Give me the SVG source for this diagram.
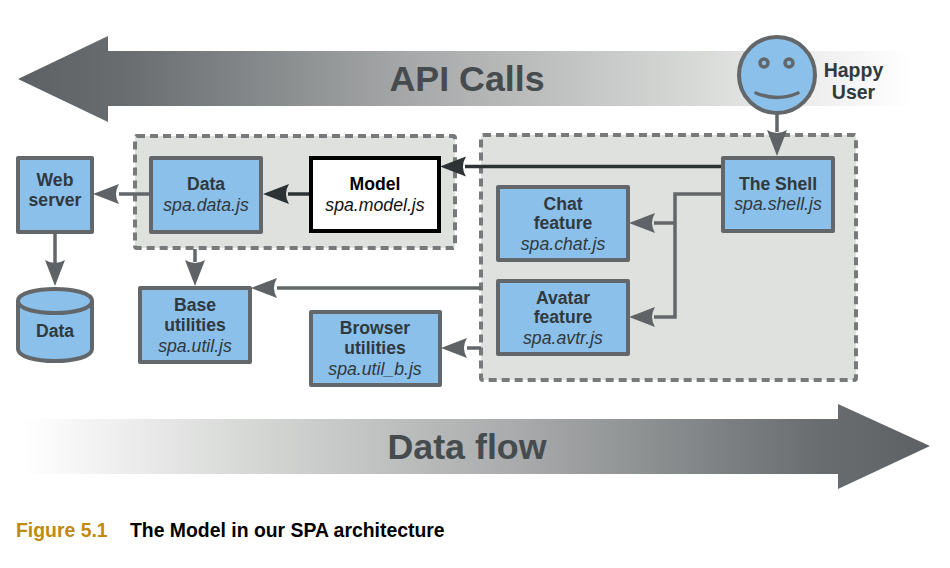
<svg xmlns="http://www.w3.org/2000/svg" width="950" height="568" viewBox="0 0 950 568">
<style>
text{font-family:"Liberation Sans",Arial,sans-serif;text-anchor:middle;fill:#30393d}
.b{font-weight:700;font-size:17.6px}
.i{font-style:italic;font-size:17.7px}
.h{font-weight:700;font-size:19.5px}
.n{fill:#8bc0ea;stroke:#636769;stroke-width:4;stroke-linejoin:round}
.g{fill:#dfe1df;stroke:#77797b;stroke-width:4;stroke-dasharray:8 5}
.c{fill:none;stroke:#636769;stroke-width:3.5}
.k{fill:none;stroke:#2d3335;stroke-width:3.5}
.big{font-weight:700;font-size:35.800px;fill:#464b4e}
.cap{text-anchor:start;font-weight:700;font-size:19.400px}
</style>
<defs>
<linearGradient id="api" gradientUnits="userSpaceOnUse" x1="18" y1="0" x2="912" y2="0">
<stop offset="0" stop-color="#5d6163"/><stop offset="0.12" stop-color="#696d6f"/><stop offset="0.45" stop-color="#a8aaab"/><stop offset="0.75" stop-color="#d6d8d6"/><stop offset="1" stop-color="#ffffff"/>
</linearGradient>
<linearGradient id="flow" gradientUnits="userSpaceOnUse" x1="22" y1="0" x2="930" y2="0">
<stop offset="0" stop-color="#ffffff"/><stop offset="0.25" stop-color="#d6d8d6"/><stop offset="0.55" stop-color="#a8aaab"/><stop offset="0.88" stop-color="#696d6f"/><stop offset="1" stop-color="#5d6163"/>
</linearGradient>
<path id="head" d="M0 0 L26 -10 Q20 0 26 10 Z"/>
</defs>
<polygon points="18,79 108,36 108,51 912,51 912,106 108,106 108,122" fill="url(#api)"/>
<polygon points="930,446 838,404 838,419 22,419 22,474 838,474 838,489" fill="url(#flow)"/>
<text class="big" x="467" y="91">API Calls</text>
<text class="big" x="467" y="459">Data flow</text>
<rect id="group-model" class="g" x="135" y="136" width="320" height="112" rx="2"/>
<rect id="group-shell" class="g" x="481" y="135" width="375" height="245" rx="2"/>
<g id="connectors">
<path class="c" d="M777 112V132"/>
<use href="#head" transform="translate(777 156) rotate(-90)" fill="#5f6365"/>
<path class="k" d="M722 166.500H465"/>
<use href="#head" transform="translate(440 166.500)" fill="#2d3335"/>
<path class="k" d="M310 194H288"/>
<use href="#head" transform="translate(263 194)" fill="#2d3335"/>
<path class="c" d="M150 194H119"/>
<use href="#head" transform="translate(93 194)" fill="#5f6365"/>
<path class="c" d="M55 232V264"/>
<use href="#head" transform="translate(55 286) rotate(-90)" fill="#5f6365"/>
<path class="c" d="M195 249V262"/>
<use href="#head" transform="translate(195 286) rotate(-90)" fill="#5f6365"/>
<path class="c" d="M481 288H277"/>
<use href="#head" transform="translate(251 288)" fill="#5f6365"/>
<path class="c" d="M481 348H467"/>
<use href="#head" transform="translate(441 348)" fill="#5f6365"/>
<path class="c" d="M722 194H675V317H654"/>
<path class="c" d="M675 223H654"/>
<use href="#head" transform="translate(629 223)" fill="#5f6365"/>
<use href="#head" transform="translate(629 317)" fill="#5f6365"/>
</g>
<g id="web-server"><rect class="n" x="18" y="158" width="74" height="74"/><text class="b" x="55" y="186">Web</text><text class="b" x="55" y="206">server</text></g>
<g id="data-store"><path class="n" d="M18 301V349C18 365 92 365 92 349V301C92 285 18 285 18 301Z"/><path class="n" d="M18 301C18 317 92 317 92 301" fill="none"/><text class="b" x="55" y="337">Data</text></g>
<g id="data"><rect class="n" x="151" y="158" width="110" height="74"/><text class="b" x="206" y="190">Data</text><text class="i" x="206" y="211">spa.data.js</text></g>
<g id="model"><rect x="311" y="158" width="128" height="73" fill="#fff" stroke="#000" stroke-width="4"/><text class="b" x="375" y="190" style="fill:#000">Model</text><text class="i" x="375" y="211" style="fill:#111">spa.model.js</text></g>
<g id="base-utilities"><rect class="n" x="140" y="288" width="110" height="74"/><text class="b" x="195" y="311">Base</text><text class="b" x="195" y="331">utilities</text><text class="i" x="195" y="352">spa.util.js</text></g>
<g id="browser-utilities"><rect class="n" x="311" y="312" width="129" height="73"/><text class="b" x="375" y="334">Browser</text><text class="b" x="375" y="354">utilities</text><text class="i" x="375" y="375">spa.util_b.js</text></g>
<g id="shell"><rect class="n" x="723" y="158" width="110" height="73"/><text class="b" x="778" y="190">The Shell</text><text class="i" x="778" y="210">spa.shell.js</text></g>
<g id="chat"><rect class="n" x="498" y="187" width="130" height="73"/><text class="b" x="563" y="210">Chat</text><text class="b" x="563" y="229">feature</text><text class="i" x="563" y="250">spa.chat.js</text></g>
<g id="avatar"><rect class="n" x="498" y="281" width="130" height="73"/><text class="b" x="563" y="304">Avatar</text><text class="b" x="563" y="323">feature</text><text class="i" x="563" y="344">spa.avtr.js</text></g>
<g id="user"><circle class="n" cx="777" cy="75" r="38"/><circle cx="764" cy="63" r="4" fill="#8bc0ea" stroke="#636769" stroke-width="3.500"/><circle cx="789" cy="63" r="4" fill="#8bc0ea" stroke="#636769" stroke-width="3.500"/><path d="M756 93Q777 102 798 93" fill="none" stroke="#636769" stroke-width="3.500" stroke-linecap="round"/><text class="h" x="853.500" y="77">Happy</text><text class="h" x="853.500" y="99">User</text></g>
<text class="cap" x="16" y="537" style="fill:#bf8a0e">Figure 5.1</text>
<text class="cap" x="130" y="537" style="fill:#000">The Model in our SPA architecture</text>
</svg>
